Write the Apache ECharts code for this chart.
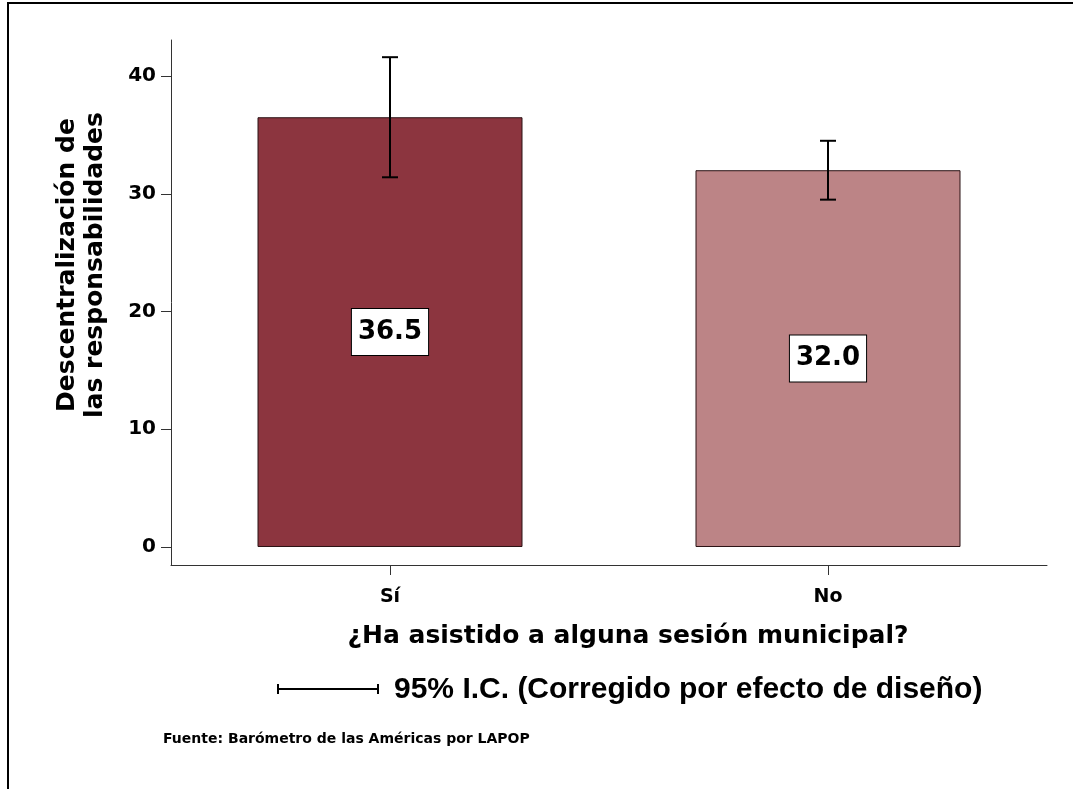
<!DOCTYPE html>
<html>
<head>
<meta charset="utf-8">
<script src="https://cdn.jsdelivr.net/npm/echarts@6/dist/echarts.min.js"></script>
<style>html,body{margin:0;padding:0;background:#fff}#c{width:1073px;height:789px}</style>
</head>
<body>
<div id="c"></div>
<script>
const categories = ['Sí', 'No'];
const means = [36.5, 32.0];
const ciLow = [31.4, 29.5];
const ciHigh = [41.6, 34.5];
const yTicks = [0, 10, 20, 30, 40];
const barColors = ['#8C353F', '#BC8486'];
const yTitle = 'Descentralización de\nlas responsabilidades';
const xTitle = '¿Ha asistido a alguna sesión municipal?';
const legendText = '95% I.C. (Corregido por efecto de diseño)';
const sourceText = 'Fuente: Barómetro de las Américas por LAPOP';

const F = 'DejaVu Sans';
const chart = echarts.init(document.getElementById('c'));
chart.setOption({
  animation: false,
  backgroundColor: '#fff',
  grid: {left: 171, right: 26, top: 40, bottom: 224},
  xAxis: {
    type: 'category', data: categories,
    axisLine: {onZero: false, lineStyle: {color: '#333', width: 1}},
    axisTick: {show: true, interval: 0, alignWithLabel: true, length: 10, lineStyle: {color: '#333', width: 1}},
    axisLabel: {margin: 23, color: '#000', fontFamily: F, fontWeight: 'bold', fontSize: 19}
  },
  yAxis: {
    type: 'value', min: -1.53, max: 43.06,
    splitLine: {show: false},
    axisLine: {show: true, lineStyle: {color: '#333', width: 1}},
    axisTick: {show: true, length: 10, customValues: yTicks, lineStyle: {color: '#333'}},
    axisLabel: {customValues: yTicks, margin: 15, color: '#000', fontFamily: F, fontWeight: 'bold', fontSize: 20}
  },
  series: [{
    type: 'bar', barWidth: 265,
    data: means.map((v, i) => ({value: v, itemStyle: {color: barColors[i]}})),
    itemStyle: {borderColor: '#2a1214', borderWidth: 1},
    label: {
      show: true, position: 'inside',
      formatter: p => p.value.toFixed(1),
      backgroundColor: '#fff', borderColor: '#000', borderWidth: 1,
      padding: [7, 6], lineHeight: 32,
      color: '#000', fontFamily: F, fontWeight: 'bold', fontSize: 26
    }
  }, {
    type: 'custom',
    data: categories.map((c, i) => [i, ciLow[i], ciHigh[i]]),
    renderItem: function (params, api) {
      const lo = api.coord([api.value(0), api.value(1)]);
      const hi = api.coord([api.value(0), api.value(2)]);
      const w = 8;
      const st = {stroke: '#000', lineWidth: 2};
      return {type: 'group', children: [
        {type: 'line', shape: {x1: lo[0], y1: lo[1], x2: hi[0], y2: hi[1]}, style: st},
        {type: 'line', shape: {x1: lo[0] - w, y1: lo[1], x2: lo[0] + w, y2: lo[1]}, style: st},
        {type: 'line', shape: {x1: hi[0] - w, y1: hi[1], x2: hi[0] + w, y2: hi[1]}, style: st}
      ]};
    },
    z: 5
  }],
  graphic: [
    {type: 'rect', shape: {x: 8, y: 3, width: 1200, height: 900}, style: {fill: 'none', stroke: '#000', lineWidth: 2}, silent: true},
    {type: 'text', x: 81, y: 265, rotation: Math.PI / 2,
      style: {text: yTitle, align: 'center', verticalAlign: 'middle', font: 'bold 25px "DejaVu Sans"', lineHeight: 28, fill: '#000'}},
    {type: 'text', x: 628, y: 636,
      style: {text: xTitle, align: 'center', verticalAlign: 'middle', font: 'bold 25px "DejaVu Sans"', fill: '#000'}},
    {type: 'group', children: [
      {type: 'line', shape: {x1: 278, y1: 689, x2: 378, y2: 689}, style: {stroke: '#000', lineWidth: 2}},
      {type: 'line', shape: {x1: 278, y1: 684, x2: 278, y2: 694}, style: {stroke: '#000', lineWidth: 2}},
      {type: 'line', shape: {x1: 378, y1: 684, x2: 378, y2: 694}, style: {stroke: '#000', lineWidth: 2}}
    ]},
    {type: 'text', x: 394, y: 690,
      style: {text: legendText, align: 'left', verticalAlign: 'middle', font: 'bold 30px "Liberation Sans"', fill: '#000'}},
    {type: 'text', x: 163, y: 739,
      style: {text: sourceText, align: 'left', verticalAlign: 'middle', font: 'bold 14px "DejaVu Sans"', fill: '#000'}}
  ]
});
</script>
</body>
</html>
